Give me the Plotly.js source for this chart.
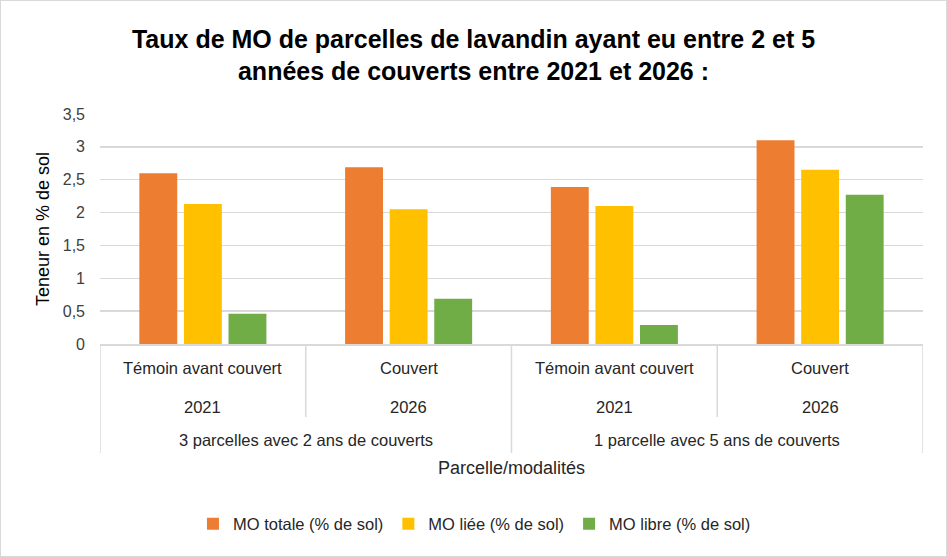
<!DOCTYPE html>
<html>
<head>
<meta charset="utf-8">
<script src="https://cdn.plot.ly/plotly-3.0.1.min.js"></script>
<style>
  body { margin: 0; background: #fff; }
  #chart { width: 945px; height: 555px; border: 1px solid #d9d9d9; }
</style>
</head>
<body>
<div id="chart"></div>
<script>
// MO content per plot/modality
const modalities = ['Témoin avant couvert', 'Couvert', 'Témoin avant couvert', 'Couvert'];
const years      = ['2021', '2026', '2021', '2026'];
const groupOf    = [0, 0, 1, 1];
const groups     = ['3 parcelles avec 2 ans de couverts', '1 parcelle avec 5 ans de couverts'];

const moTotale = [2.60, 2.69, 2.39, 3.10];
const moLiee   = [2.13, 2.05, 2.10, 2.65];
const moLibre  = [0.46, 0.69, 0.29, 2.27];

const TXT = '#262626';
const FONT = 'Liberation Sans, Arial, sans-serif';
const xs = modalities.map((_, i) => i);

const _bar = (name, y, color) => ({
  type: 'bar', name, x: xs, y,
  marker: { color },
  hovertemplate: '%{y}<extra>' + name + '</extra>',
});

const traces = [
  _bar('MO totale (% de sol)', moTotale, '#ed7d31'),
  _bar('MO liée (% de sol)',   moLiee,   '#ffc000'),
  _bar('MO libre (% de sol)',  moLibre,  '#70ad47'),
];

// ── multi-level category labels (3 rows) ────────────────────────────────────
const annotations = [];
const shapes = [];
const _lbl = (x, y, text) => ({
  xref: 'x', yref: 'paper', x, y, text, showarrow: false,
  yanchor: 'middle', font: { family: FONT, size: 16.5, color: TXT },
});

xs.forEach(i => {
  annotations.push(_lbl(i, -0.104, modalities[i]));
  annotations.push(_lbl(i, -0.274, years[i]));
  // inner dividers between modalities of the same group
  if (i > 0 && groupOf[i] === groupOf[i - 1]) {
    shapes.push({ type: 'line', xref: 'x', yref: 'paper', x0: i - 0.5, x1: i - 0.5,
                  y0: 0, y1: -0.317, line: { color: '#d9d9d9', width: 1.5 } });
  }
});

groups.forEach((g, gi) => {
  const idx = xs.filter(i => groupOf[i] === gi);
  const lo = Math.min(...idx), hi = Math.max(...idx);
  annotations.push(_lbl((lo + hi) / 2, -0.417, g));
  shapes.push({ type: 'line', xref: 'x', yref: 'paper', x0: lo - 0.5, x1: lo - 0.5,
                y0: 0, y1: -0.474, line: { color: '#d9d9d9', width: 1.5 } });
  if (gi === groups.length - 1) {
    shapes.push({ type: 'line', xref: 'x', yref: 'paper', x0: hi + 0.5, x1: hi + 0.5,
                  y0: 0, y1: -0.474, line: { color: '#d9d9d9', width: 1.5 } });
  }
});

annotations.push({
  xref: 'paper', yref: 'paper', x: 0.5, y: -0.539, text: 'Parcelle/modalités',
  showarrow: false, yanchor: 'middle', font: { family: FONT, size: 18, color: TXT },
});

const layout = {
  width: 945, height: 555,
  margin: { t: 113, r: 23, b: 212, l: 99 },
  paper_bgcolor: '#ffffff', plot_bgcolor: '#ffffff',
  font: { family: FONT, color: TXT },
  separators: ', ',
  title: {
    text: '<b>Taux de MO de parcelles de lavandin ayant eu entre 2 et 5<br>années de couverts entre 2021 et 2026 :</b>',
    font: { family: FONT, size: 25, color: '#000000' },
    x: 0.5, xanchor: 'center', xref: 'container',
    y: 0.916, yanchor: 'middle', yref: 'container',
  },
  barmode: 'group', bargap: 0.35, bargroupgap: 0.15,
  xaxis: {
    range: [-0.5, 3.5], showticklabels: false, showgrid: false, zeroline: false,
    showline: true, linecolor: '#d9d9d9', linewidth: 1.5, fixedrange: true,
  },
  yaxis: {
    range: [0, 3.5], dtick: 0.5, tick0: 0,
    showgrid: true, gridcolor: '#d9d9d9', gridwidth: 1.5, zeroline: false,
    ticks: '', ticklabelstandoff: 14,
    tickfont: { family: FONT, size: 16, color: '#404040' },
    title: { text: 'Teneur en % de sol', standoff: 8, font: { family: FONT, size: 18, color: '#000000' } },
  },
  showlegend: true,
  legend: {
    orientation: 'h', x: 0.455, xanchor: 'center', y: -0.783, yanchor: 'middle',
    font: { family: FONT, size: 16.5, color: TXT }, traceorder: 'normal',
    itemwidth: 30,
  },
  annotations, shapes,
};

Plotly.newPlot('chart', traces, layout, { displayModeBar: false, staticPlot: true });
</script>
</body>
</html>
